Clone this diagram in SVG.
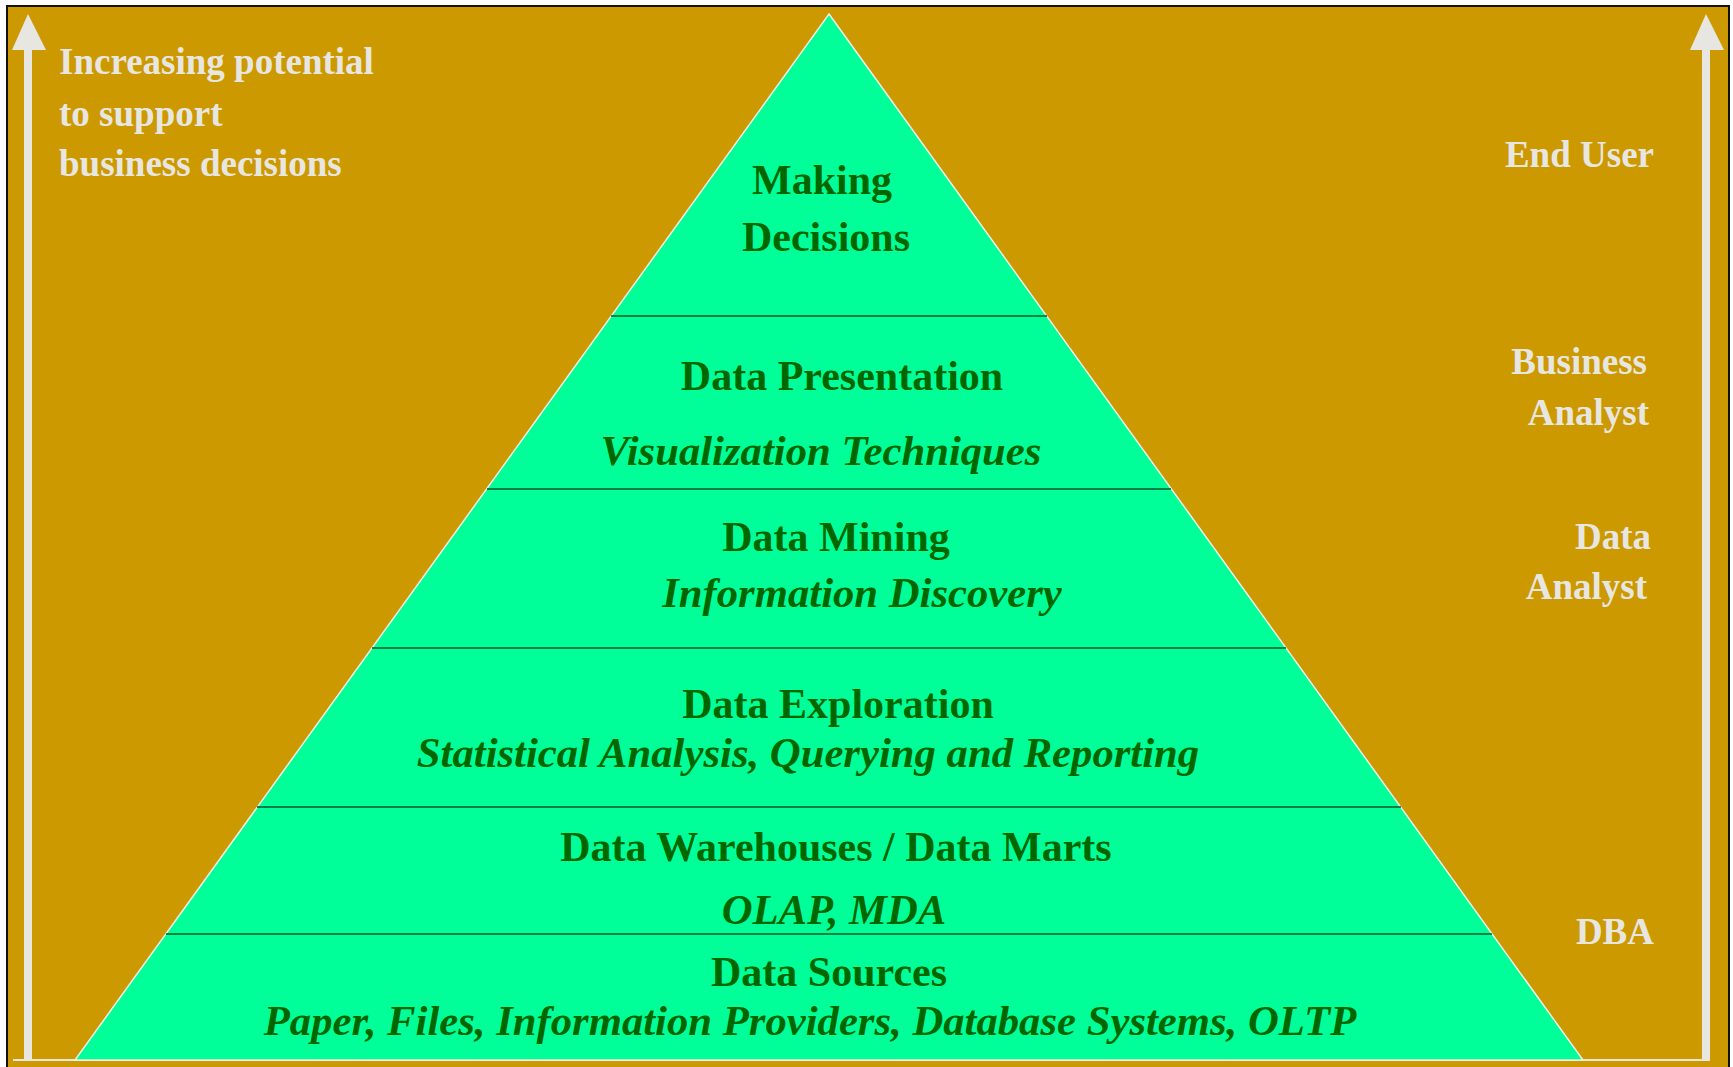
<svg xmlns="http://www.w3.org/2000/svg" width="1733" height="1067" viewBox="0 0 1733 1067">
<style>
.lvl{font-family:"Liberation Serif","Times New Roman",serif;font-weight:bold;font-size:42px;fill:#006600;text-anchor:middle}
.it{font-style:italic;font-size:42.7px}
.lab{font-family:"Liberation Serif","Times New Roman",serif;font-weight:bold;font-size:37px;fill:#E8E6E1}
.sep{stroke:#00552b;stroke-width:1.5}
.arr{fill:#E8E6E1}
</style>
<rect x="0" y="0" width="1733" height="1067" fill="#ffffff"/>
<rect id="frame" x="7" y="6" width="1722" height="1080" fill="#CC9900" stroke="#111111" stroke-width="2"/>
<g id="axes">
<rect class="arr" x="24" y="48" width="8" height="1013"/>
<polygon class="arr" points="28,14 46,50 12,50"/>
<rect class="arr" x="1702" y="48" width="8" height="1013"/>
<polygon class="arr" points="1706,14 1724,50 1690,50"/>
<rect class="arr" x="13" y="1059" width="1697" height="2"/>
</g>
<g id="pyramid">
<polygon points="829,14 1583,1060 75,1060" fill="#00FF99" stroke="#f0f0e8" stroke-width="1.5"/>
</g>
<g id="connectors">
<line class="sep" x1="611" y1="316" x2="1047" y2="316"/>
<line class="sep" x1="487" y1="489" x2="1171" y2="489"/>
<line class="sep" x1="372" y1="648" x2="1286" y2="648"/>
<line class="sep" x1="257" y1="807" x2="1401" y2="807"/>
<line class="sep" x1="166" y1="934" x2="1492" y2="934"/>
</g>
<g id="making-decisions">
<text class="lvl" x="822" y="194" font-size="44">Making</text>
<text class="lvl" x="826" y="251" font-size="44">Decisions</text>
</g>
<g id="data-presentation">
<text class="lvl" x="842" y="390">Data Presentation</text>
<text class="lvl it" x="821" y="465">Visualization Techniques</text>
</g>
<g id="data-mining">
<text class="lvl" x="836" y="551">Data Mining</text>
<text class="lvl it" x="862" y="607">Information Discovery</text>
</g>
<g id="data-exploration">
<text class="lvl" x="838" y="718">Data Exploration</text>
<text class="lvl it" x="808" y="767">Statistical Analysis, Querying and Reporting</text>
</g>
<g id="data-warehouses">
<text class="lvl" x="836" y="861">Data Warehouses / Data Marts</text>
<text class="lvl it" x="834" y="924">OLAP, MDA</text>
</g>
<g id="data-sources">
<text class="lvl" x="829" y="986">Data Sources</text>
<text class="lvl it" x="810" y="1035">Paper, Files, Information Providers, Database Systems, OLTP</text>
</g>
<g id="left-label">
<text class="lab" x="59" y="74">Increasing potential</text>
<text class="lab" x="59" y="126">to support</text>
<text class="lab" x="59" y="176">business decisions</text>
</g>
<g id="roles">
<text class="lab" x="1654" y="167" text-anchor="end">End User</text>
<text class="lab" x="1647" y="374" text-anchor="end">Business</text>
<text class="lab" x="1649" y="425" text-anchor="end">Analyst</text>
<text class="lab" x="1651" y="549" text-anchor="end">Data</text>
<text class="lab" x="1647" y="599" text-anchor="end">Analyst</text>
<text class="lab" x="1654" y="944" text-anchor="end">DBA</text>
</g>
</svg>
